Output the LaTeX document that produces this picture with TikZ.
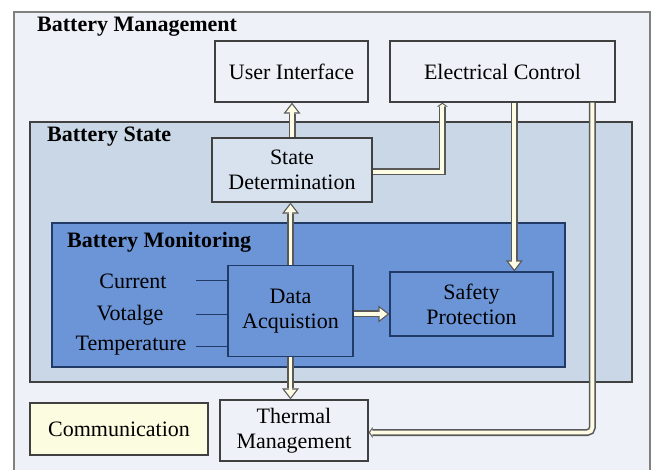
\documentclass[tikz,border=0pt]{standalone}
\usepackage{fontspec}
\setmainfont{Liberation Serif}
\newfontfamily\boxfont{Liberation Serif}
\usetikzlibrary{arrows.meta}

\definecolor{mgmtbg}{HTML}{EEF2F8}
\definecolor{statebg}{HTML}{CAD7E7}
\definecolor{sdbg}{HTML}{D8E2EE}
\definecolor{monbg}{HTML}{6C95D7}
\definecolor{monline}{HTML}{223A66}
\definecolor{commbg}{HTML}{FCFCE0}
\definecolor{pipefill}{HTML}{FFFCE4}

\begin{document}
\begin{tikzpicture}[x=1pt,y=-1pt,
  box/.style={draw=black!75,line width=1.3pt,align=center,inner sep=0pt,
    font=\boxfont\fontsize{22}{25}\selectfont},
  title/.style={anchor=west,inner sep=0pt,font=\boxfont\fontsize{22}{25}\selectfont\bfseries},
  label/.style={inner sep=0pt,font=\boxfont\fontsize{22}{25}\selectfont},
  sensor/.style={draw=monline,line width=1pt},
  pipe/.style={draw=black!65,line width=7pt,
    -{Triangle[length=11pt,width=17pt,line width=0pt]},
    postaction={draw=pipefill,line width=3.8pt,
      -{Triangle[length=7.8pt,width=12pt,line width=0pt]},shorten >=2pt}},
  thinpipe/.style={draw=black!65,line width=7pt,
    -{Triangle[length=4pt,width=11pt,line width=0pt]},
    postaction={draw=pipefill,line width=3.8pt,
      -{Triangle[length=2pt,width=6pt,line width=0pt]},shorten >=1.5pt}}]
  \useasboundingbox (0,0) rectangle (664,470);
  % outer frames
  \node[box,draw=black!50,fill=mgmtbg,minimum width=636pt,minimum height=460pt] (bm) at (332,242) {};
  \node[title] (bmt) at (37,27) {Battery Management};
  \node[box,fill=mgmtbg,minimum width=153pt,minimum height=61pt] (ui) at (291.5,71.5) {User Interface};
  \node[box,fill=mgmtbg,minimum width=225pt,minimum height=61pt] (ec) at (502.5,71.5) {Electrical Control};
  \node[box,fill=statebg,minimum width=602pt,minimum height=260pt] (bs) at (331,252) {};
  \node[title] (bst) at (47,137) {Battery State};
  \node[box,fill=sdbg,minimum width=160pt,minimum height=64pt] (sd) at (292,170) {State\\Determination};
  \node[box,draw=monline,fill=monbg,minimum width=513pt,minimum height=144pt] (bmon) at (308.5,295) {};
  \node[title] (bmont) at (67,242) {Battery Monitoring};
  \node[box,draw=monline,fill=monbg,minimum width=125pt,minimum height=91pt] (da) at (290.5,311) {Data\\Acquistion};
  \node[box,draw=monline,fill=monbg,minimum width=163pt,minimum height=64pt] (sp) at (471.5,304) {Safety\\Protection};
  \node[box,fill=commbg,minimum width=178pt,minimum height=52pt] (comm) at (119,429) {Communication};
  \node[box,fill=mgmtbg,minimum width=148pt,minimum height=61pt] (tm) at (294,430.5) {Thermal\\Management};
  % sensor inputs
  \node[label] (cur) at (133,281) {Current};
  \node[label] (vol) at (130,315) {Votalge};
  \node[label] (tmp) at (131,346) {Temperature};
  \draw[sensor] ([xshift=-31pt]da.west |- cur) -- (da.west |- cur);
  \draw[sensor] ([xshift=-31pt]da.west |- vol) -- (da.west |- vol);
  \draw[sensor] ([xshift=-31pt]da.west |- tmp) -- (da.west |- tmp);
  % pipes
  \coordinate (ec1) at ([xshift=53pt]ec.south west);
  \coordinate (ec2) at ([xshift=125pt]ec.south west);
  \coordinate (ec3) at ([xshift=203pt]ec.south west);
  \draw[pipe] (sd.north) -- (sd.north |- ui.south);
  \draw[pipe] (da.north) -- (da.north |- sd.south);
  \draw[pipe] ([yshift=-3pt]da.east) -- ([yshift=-3pt]da.east -| sp.west);
  \draw[pipe] (da.south) -- (da.south |- tm.north);
  \draw[thinpipe] ([yshift=-2pt]sd.east) -| (ec1);
  \draw[pipe] (ec2) -- (ec2 |- sp.north);
  \draw[thinpipe,rounded corners=5pt] (ec3) |- ([yshift=-2pt]tm.east);
\end{tikzpicture}
\end{document}
